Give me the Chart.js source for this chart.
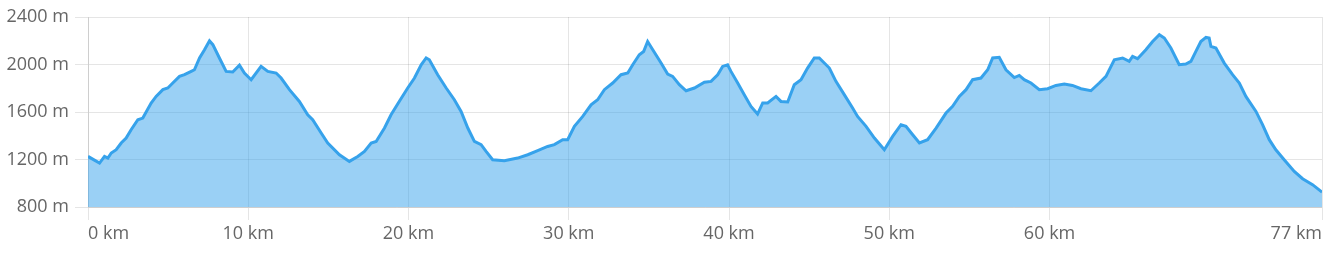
<!DOCTYPE html>
<html>
<head>
<meta charset="utf-8">
<script src="https://cdn.jsdelivr.net/npm/chart.js@4"></script>
<style>
  html, body { margin: 0; padding: 0; background: #fff; }
  .wrap { width: 1327px; height: 255px; position: relative; }
</style>
</head>
<body>
<div class="wrap"><canvas id="myChart"></canvas></div>
<script>
// distance along the route (km) and elevation (m)
const distances = [
  0, 0.4, 0.72, 1.03, 1.24, 1.45, 1.76, 2.07, 2.38, 2.69, 3.11, 3.42, 3.94, 4.25, 4.67, 4.98,
  5.29, 5.71, 6.02, 6.44, 6.64, 6.96, 7.27, 7.58, 7.79, 8.2, 8.62, 9.03, 9.45, 9.76,
  10.18, 10.8, 11.22, 11.74, 12.05, 12.57, 13.19, 13.71, 14.02, 14.55, 14.96, 15.69,
  16.31, 16.83, 17.25, 17.67, 17.98, 18.5, 18.91, 19.43, 19.95, 20.37, 20.79, 21.1,
  21.3, 21.82, 22.35, 22.86, 23.28, 23.7, 24.11, 24.53, 24.84, 25.25, 25.98, 26.81,
  27.44, 28.06, 28.68, 29.1, 29.62, 29.93, 30.35, 30.87, 31.39, 31.8, 32.22, 32.74,
  33.26, 33.68, 33.99, 34.4, 34.67, 34.92, 35.24, 35.76, 36.17, 36.48, 36.9, 37.32,
  37.84, 38.46, 38.88, 39.29, 39.6, 39.91, 40.12, 40.54, 40.95, 41.37, 41.78, 42.1,
  42.41, 42.93, 43.24, 43.66, 44.07, 44.49, 44.9, 45.32, 45.63, 46.26, 46.67, 47.19,
  47.71, 48.02, 48.55, 49.07, 49.69, 50.21, 50.73, 51.04, 51.46, 51.88, 52.39, 52.92,
  53.54, 53.95, 54.37, 54.79, 55.2, 55.72, 56.14, 56.45, 56.86, 57.28, 57.8, 58.11,
  58.42, 58.84, 59.36, 59.88, 60.4, 60.92, 61.43, 61.96, 62.58, 63.1, 63.52, 64.04,
  64.56, 64.97, 65.18, 65.49, 66.01, 66.43, 66.85, 67.16, 67.57, 68.09, 68.5, 68.82,
  69.13, 69.44, 69.76, 69.96, 70.07, 70.38, 70.9, 71.42, 71.84, 72.25, 72.88, 73.29,
  73.71, 74.12, 74.64, 75.27, 75.79, 76.41, 77
];
const elevations = [
  1226, 1195, 1170, 1226, 1212, 1255, 1282, 1339, 1381, 1451, 1535, 1549, 1676, 1731, 1788, 1802,
  1844, 1900, 1914, 1942, 1956, 2055, 2124, 2200, 2167, 2055, 1942, 1937, 1995, 1928,
  1872, 1984, 1942, 1928, 1886, 1788, 1689, 1577, 1535, 1423, 1339, 1240,
  1184, 1226, 1268, 1339, 1352, 1465, 1577, 1690, 1802, 1886, 1998, 2055,
  2040, 1914, 1802, 1703, 1605, 1465, 1352, 1325, 1268, 1198, 1190, 1212,
  1240, 1274, 1310, 1325, 1367, 1367, 1479, 1563, 1661, 1703, 1788, 1844,
  1914, 1928, 1998, 2082, 2110, 2194, 2124, 2012, 1920, 1900, 1830, 1779,
  1802, 1850, 1858, 1914, 1984, 1998, 1942, 1844, 1746, 1647, 1583, 1676,
  1676, 1731, 1689, 1684, 1830, 1872, 1970, 2055, 2055, 1970, 1858, 1746,
  1634, 1563, 1479, 1381, 1282, 1395, 1493, 1479, 1409, 1339, 1367, 1465,
  1591, 1647, 1731, 1788, 1872, 1886, 1956, 2055, 2060, 1956, 1890, 1908,
  1872, 1844, 1788, 1796, 1824, 1836, 1824, 1796, 1779, 1844, 1900, 2040,
  2055, 2026, 2068, 2049, 2124, 2194, 2251, 2223, 2139, 1998, 2004, 2026,
  2110, 2194, 2228, 2223, 2152, 2139, 2012, 1914, 1844, 1731, 1605, 1493,
  1367, 1282, 1198, 1100, 1038, 988, 925
];

// axis ticks
const xTickValues = [0, 10, 20, 30, 40, 50, 60, 77];
const yTickValues = [800, 1200, 1600, 2000, 2400];

Chart.defaults.font.family = '"Open Sans", "Noto Sans", sans-serif';
Chart.defaults.font.size = 18;
Chart.defaults.color = '#666';

const ctx = document.getElementById('myChart');

new Chart(ctx, {
  type: 'line',
  data: {
    datasets: [{
      label: 'Elevation',
      data: distances.map((d, i) => ({ x: d, y: elevations[i] })),
      borderColor: 'rgb(54, 162, 235)',
      backgroundColor: 'rgba(54, 162, 235, 0.5)',
      borderWidth: 3,
      pointRadius: 0,
      tension: 0,
      fill: 'start'
    }]
  },
  options: {
    responsive: true,
    maintainAspectRatio: false,
    animation: false,
    layout: {
      padding: { top: 17, right: 5, left: 0, bottom: 0 }
    },
    plugins: {
      legend: { display: false },
      tooltip: { enabled: false }
    },
    scales: {
      x: {
        type: 'linear',
        min: xTickValues[0],
        max: xTickValues[xTickValues.length - 1],
        grid: { tickLength: 13 },
        ticks: {
          align: 'inner',
          maxRotation: 0,
          autoSkip: false,
          padding: 3,
          callback: v => v + ' km'
        },
        afterBuildTicks: scale => {
          scale.ticks = xTickValues.map(v => ({ value: v }));
        },
        afterFit: scale => { scale.height = 48; }
      },
      y: {
        min: yTickValues[0],
        max: yTickValues[yTickValues.length - 1],
        grid: { tickLength: 13 },
        ticks: {
          padding: 6,
          callback: v => v + ' m'
        },
        afterBuildTicks: scale => {
          scale.ticks = yTickValues.map(v => ({ value: v }));
        },
        afterFit: scale => { scale.width = 88; }
      }
    }
  }
});
</script>
</body>
</html>
